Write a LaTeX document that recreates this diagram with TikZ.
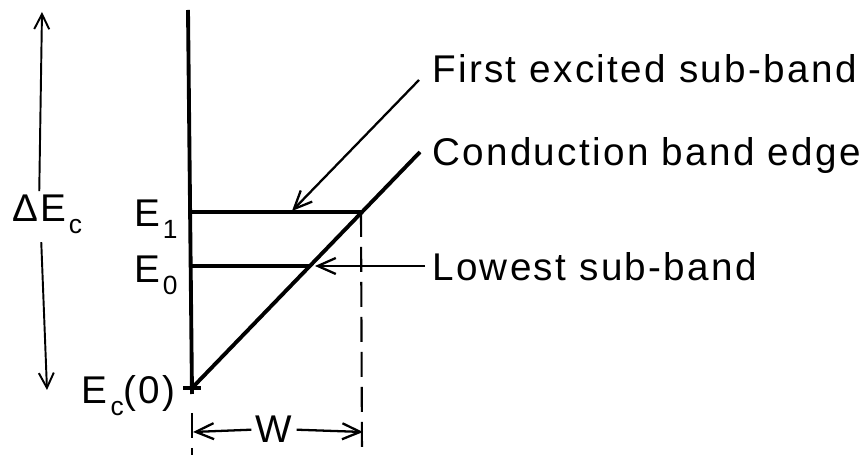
\documentclass[tikz,border=0pt]{standalone}
\usepackage{fontspec}
\setmainfont{Liberation Sans}[LetterSpace=6]
\usetikzlibrary{arrows.meta}
\newcommand{\subs}[1]{\kern0.08em\raisebox{-0.3em}{\fontsize{15}{18}\selectfont #1}}

\begin{document}
\begin{tikzpicture}[
	x=0.02cm, y=-0.02cm,
	thickline/.style={line width=2.2pt},
	dashline/.style={line width=1.2pt, dash pattern=on 0.5cm off 0.2cm},
	arrow/.style={-{Straight Barb[length=3.6mm, width=3.2mm]}, line width=1.3pt},
	longarrow/.style={-{Straight Barb[length=3mm, width=3mm]}, line width=1.1pt},
	lbl/.style={font=\fontsize{22}{26}\selectfont, inner sep=0pt}
]
\useasboundingbox (0,0) rectangle (863,455);

% well: wall, band edge, sub-bands
\coordinate (top) at (188,10);
\coordinate (ec0) at (192,388);
\coordinate (wallend) at (192,394);
\coordinate (tickl) at (183,388);
\coordinate (tickr) at (201,388);
\coordinate (edge) at (420,152);
\coordinate (e1l) at (191,212);
\coordinate (e1r) at (361,212);
\coordinate (e0l) at (191,266);
\coordinate (e0r) at (311,266);

\draw[thickline] (top) -- (wallend);
\draw[thickline] (tickl) -- (tickr);
\draw[thickline] (ec0) -- (edge);
\draw[thickline] (e1l) -- (e1r);
\draw[thickline] (e0l) -- (e0r);

% width W
\coordinate (wl) at (192,413);
\coordinate (wlb) at (192,455);
\coordinate (wrb) at (362,455);
\coordinate (wa) at (193,432);
\coordinate (wb) at (363,432);
\draw[dashline] (wl) -- (wlb);
\draw[dashline] (e1r) -- (wrb);
\node[lbl, anchor=base] (w) at (274,443) {W};
\draw[arrow] (w.west) ++(-4,0) coordinate (wwest) (wwest) -- (wa);
\draw[arrow] (w.east) ++(4,0) coordinate (weast) (weast) -- (wb);

% level labels
\node[lbl, anchor=base east] (e1lbl) at (178,227) {E\subs{1}};
\node[lbl, anchor=base east] (e0lbl) at (178,283) {E\subs{0}};
\node[lbl, anchor=base east] (ec0lbl) at (176,404) {E\subs{c}(0)};

% band offset
\node[lbl, anchor=base west] (dec) at (12,222) {Δ\kern0.05em E\subs{c}};
\coordinate (dtop) at (42,12);
\coordinate (dbot) at (47,390);
\draw[longarrow] (dec.north) ++(-8,-4) coordinate (decn) (decn) -- (dtop);
\draw[longarrow] (dec.south) ++(-6,8) coordinate (decs) (decs) -- (dbot);

% annotations
\node[lbl, anchor=base west] (first) at (432,83) {First excited sub-band};
\node[lbl, anchor=base west] (cond) at (432,166) {Conduction band edge};
\node[lbl, anchor=base west] (low) at (432,281) {Lowest sub-band};
\coordinate (firststart) at (419,80);
\coordinate (firsttip) at (292,211);
\coordinate (lowstart) at (425,266);
\coordinate (lowtip) at (315,266);
\draw[arrow] (firststart) -- (firsttip);
\draw[arrow] (lowstart) -- (lowtip);
\end{tikzpicture}
\end{document}
